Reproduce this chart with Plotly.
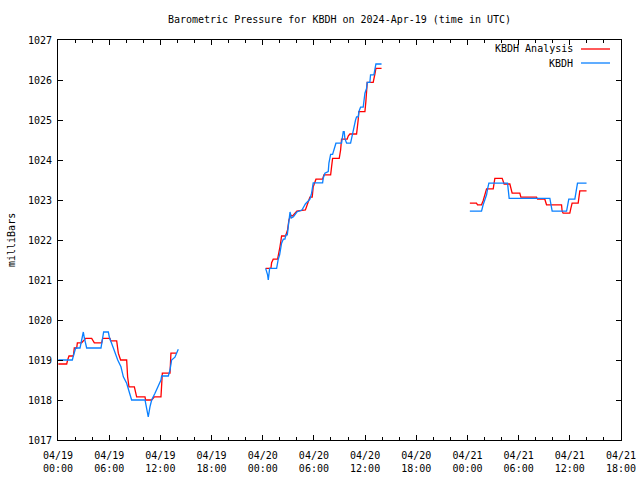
import plotly.graph_objects as go
import pandas as pd

START = "2024-04-19 00:00"

# hours since 2024-04-19 00:00 UTC, pressure (mb)
obs_hours = [
    0.04, 1.68, 1.80, 1.91, 2.07, 2.58, 2.70, 2.81, 2.97, 3.09, 3.24, 3.36, 5.04, 5.24, 5.35, 5.90,
    6.02, 6.49, 6.68, 7.00, 7.38, 7.66, 8.05, 8.32, 8.63, 10.20, 10.39, 10.58, 10.78, 10.98, 11.37,
    11.56, 12.07, 12.15, 12.93, 13.13, 13.32, 13.71, 13.91, 14.10, None,
    24.34, 24.57, 24.65, 24.81, 25.63, 25.70, 25.82, 25.98, 26.05, 26.21, 26.41, 26.60, 26.72, 26.88,
    26.99, 27.07, 27.20, 27.35, 27.60, 28.00, 28.60, 29.00, 29.53, 29.73, 29.92, 31.02, 31.09, 31.29,
    31.68, 31.76, 31.88, 31.96, 32.19, 32.34, 32.58, 33.24, 33.32, 33.44, 33.55, 33.63, 33.83, 34.30,
    34.42, 34.53, 34.69, 34.80, 34.88, 35.00, 35.20, 35.27, 35.47, 35.78, 35.86, 35.98, 36.17, 36.25,
    36.56, 36.64, 37.03, 37.15, 37.27, 37.93, None,
    48.28, 49.65, 49.84, 50.04, 50.24, 50.36, 50.51, 52.70, 52.77, 52.89, 57.66, 57.78, 57.93, 59.62,
    59.73, 59.88, 60.59, 60.70, 60.90, 61.96,
]
obs_mb = [
    1019.00, 1019.00, 1019.10, 1019.20, 1019.30, 1019.30, 1019.43, 1019.58, 1019.70, 1019.55, 1019.42,
    1019.30, 1019.30, 1019.58, 1019.70, 1019.70, 1019.57, 1019.30, 1019.17, 1019.00, 1018.83, 1018.58,
    1018.42, 1018.25, 1018.00, 1018.00, 1017.83, 1017.58, 1017.83, 1018.00, 1018.17, 1018.25, 1018.50,
    1018.60, 1018.60, 1018.75, 1019.00, 1019.07, 1019.17, 1019.27, None,
    1021.29, 1021.13, 1021.00, 1021.29, 1021.29, 1021.42, 1021.52, 1021.63, 1021.75, 1021.92, 1022.02,
    1022.02, 1022.13, 1022.13, 1022.33, 1022.50, 1022.70, 1022.55, 1022.58, 1022.70, 1022.75, 1022.90,
    1023.02, 1023.17, 1023.43, 1023.43, 1023.54, 1023.67, 1023.71, 1023.92, 1024.04, 1024.14, 1024.14,
    1024.27, 1024.42, 1024.42, 1024.52, 1024.71, 1024.71, 1024.54, 1024.42, 1024.42, 1024.54, 1024.67,
    1024.79, 1024.92, 1025.00, 1025.08, 1025.08, 1025.21, 1025.32, 1025.32, 1025.42, 1025.67, 1025.79,
    1025.94, 1025.94, 1026.13, 1026.13, 1026.25, 1026.40, 1026.40, None,
    1022.72, 1022.72, 1022.88, 1023.02, 1023.13, 1023.28, 1023.42, 1023.42, 1023.28, 1023.04, 1023.04,
    1022.88, 1022.72, 1022.72, 1022.88, 1023.02, 1023.02, 1023.21, 1023.42, 1023.42,
]

ana_hours = [
    0.04, 1.02, 1.13, 1.29, 1.80, 1.91, 2.19, 2.27, 2.77, 3.24, 3.95, 4.14, 4.26, 5.12, 5.24, 6.09,
    6.17, 6.88, 7.07, 7.34, 8.05, 8.16, 8.32, 8.95, 9.22, 10.20, 10.27, 10.98, 11.29, 12.07, 12.15,
    12.23, 13.13, 13.24, 13.91, None,
    24.34, 24.96, 25.04, 25.23, 25.74, 25.90, 26.02, 26.13, 26.21, 26.68, 26.91, 27.07, 27.30, 27.50,
    28.00, 29.00, 29.30, 29.53, 29.80, 29.92, 30.24, 31.02, 31.17, 31.96, 32.07, 32.19, 32.97, 33.13,
    33.24, 33.90, 34.02, 34.22, 35.00, 35.08, 35.19, 35.27, 35.98, 36.09, 36.17, 36.25, 36.95, 37.03,
    37.15, 37.27, 37.93, None,
    48.28, 49.06, 49.18, 49.65, 49.84, 50.04, 50.24, 51.02, 51.10, 51.21, 52.07, 52.19, 52.30, 52.97,
    53.09, 53.24, 54.14, 54.26, 56.10, 56.22, 57.07, 57.15, 57.27, 59.03, 59.10, 59.22, 60.00, 60.12,
    60.27, 60.98, 61.09, 61.17, 61.96,
]
ana_mb = [
    1018.90, 1018.90, 1019.00, 1019.10, 1019.10, 1019.30, 1019.30, 1019.43, 1019.43, 1019.54, 1019.54,
    1019.48, 1019.43, 1019.43, 1019.54, 1019.54, 1019.48, 1019.48, 1019.17, 1019.00, 1019.00, 1018.58,
    1018.33, 1018.33, 1018.08, 1018.08, 1018.00, 1018.00, 1018.08, 1018.08, 1018.33, 1018.67, 1018.67,
    1019.17, 1019.17, None,
    1021.29, 1021.29, 1021.43, 1021.52, 1021.52, 1021.67, 1021.83, 1021.98, 1022.10, 1022.10, 1022.25,
    1022.50, 1022.62, 1022.60, 1022.72, 1022.75, 1022.95, 1023.07, 1023.07, 1023.33, 1023.52, 1023.52,
    1023.63, 1023.63, 1023.83, 1024.04, 1024.04, 1024.25, 1024.52, 1024.52, 1024.60, 1024.65, 1024.65,
    1024.75, 1025.00, 1025.21, 1025.21, 1025.46, 1025.75, 1025.94, 1025.94, 1026.08, 1026.15, 1026.29,
    1026.29, None,
    1022.92, 1022.92, 1022.88, 1022.88, 1022.98, 1023.13, 1023.28, 1023.28, 1023.42, 1023.54, 1023.54,
    1023.48, 1023.40, 1023.40, 1023.28, 1023.17, 1023.17, 1023.07, 1023.07, 1023.02, 1023.02, 1022.96,
    1022.88, 1022.88, 1022.72, 1022.67, 1022.67, 1022.79, 1022.92, 1022.92, 1023.08, 1023.23, 1023.23,
]

tick_hours = [0, 6, 12, 18, 24, 30, 36, 42, 48, 54, 60, 66]
tick_labels = ["04/19<br>00:00", "04/19<br>06:00", "04/19<br>12:00", "04/19<br>18:00",
               "04/20<br>00:00", "04/20<br>06:00", "04/20<br>12:00", "04/20<br>18:00",
               "04/21<br>00:00", "04/21<br>06:00", "04/21<br>12:00", "04/21<br>18:00"]

t0 = pd.Timestamp(START)
def to_time(hours):
    return [None if h is None else t0 + pd.Timedelta(hours=h) for h in hours]

FONT = "DejaVu Sans Mono"
RED = "#ff0000"
BLUE = "#0a80ff"

W, H = 640, 480
ML, MT = 58, 40
PW = 563  # plot width
PH = 400  # plot height

fig = go.Figure()
fig.add_trace(go.Scatter(x=to_time(ana_hours), y=ana_mb, mode="lines", name="KBDH Analysis",
                         line=dict(color=RED, width=1.3), connectgaps=False, showlegend=False))
fig.add_trace(go.Scatter(x=to_time(obs_hours), y=obs_mb, mode="lines", name="KBDH",
                         line=dict(color=BLUE, width=1.3), connectgaps=False, showlegend=False))

fig.update_layout(
    width=W, height=H,
    margin=dict(l=ML, r=W - ML - PW, t=MT, b=H - MT - PH, pad=0),
    paper_bgcolor="white", plot_bgcolor="white",
    font=dict(family=FONT, size=10, color="black"),
    title=dict(text="Barometric Pressure for KBDH on 2024-Apr-19 (time in UTC)",
               x=0.5, xref="paper", xanchor="center", y=1 - 19 / H, yref="container",
               yanchor="middle", font=dict(family=FONT, size=10, color="black")),
)
fig.update_xaxes(
    range=[t0, t0 + pd.Timedelta(hours=66)],
    tickvals=to_time(tick_hours), ticktext=tick_labels,
    showgrid=False, zeroline=False, automargin=False,
    showline=True, linecolor="black", linewidth=1, mirror="allticks",
    ticks="inside", ticklen=5, tickcolor="black", tickwidth=1,
    ticklabelstandoff=6, ticklabeloverflow="allow",
    minor=dict(ticks="inside", ticklen=3, dtick=2 * 3600 * 1000, tickcolor="black", showgrid=False),
    tickfont=dict(family=FONT, size=10, color="black"),
)
fig.update_yaxes(
    range=[1017, 1027], dtick=1, tick0=1017,
    showgrid=False, zeroline=False, automargin=False,
    showline=True, linecolor="black", linewidth=1, mirror="allticks",
    ticks="inside", ticklen=5, tickcolor="black", tickwidth=1,
    ticklabelstandoff=3,
    tickfont=dict(family=FONT, size=10, color="black"),
)

# y-axis label
fig.add_annotation(text="milliBars", xref="paper", yref="paper", x=-47 / PW, y=0.5,
                   textangle=-90, showarrow=False, xanchor="center", yanchor="middle",
                   font=dict(family=FONT, size=10, color="black"))

# gnuplot-style legend (text then sample line)
legend_items = [("KBDH Analysis", RED), ("KBDH", BLUE)]
for i, (label, color) in enumerate(legend_items):
    ypos = 1 - (9 + 14 * i) / PH
    fig.add_annotation(text=label, xref="paper", yref="paper", x=(575 - 58) / PW, y=ypos,
                       xanchor="right", yanchor="middle", showarrow=False,
                       font=dict(family=FONT, size=10, color="black"))
    fig.add_shape(type="line", xref="paper", yref="paper",
                  x0=(581 - 58) / PW, x1=(610 - 58) / PW, y0=ypos, y1=ypos,
                  line=dict(color=color, width=1.3))

fig.write_html("out.html",
               config={"displayModeBar": False},
               post_script="document.body.style.margin='0';document.body.style.overflow='hidden';")
